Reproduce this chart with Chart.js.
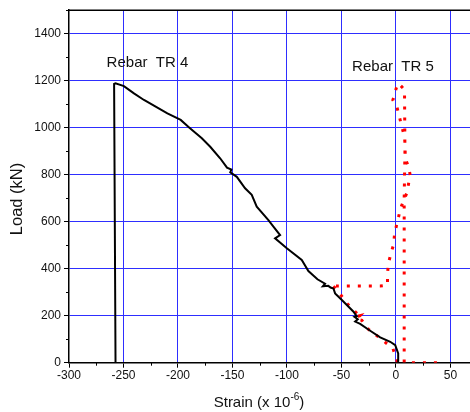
<!DOCTYPE html>
<html>
<head>
<meta charset="utf-8">
<script src="https://cdn.jsdelivr.net/npm/chart.js@4"></script>
<style>
  html, body { margin: 0; padding: 0; background: #fff; overflow: hidden; }
  #wrap { width: 470px; height: 412px; }
</style>
</head>
<body>
<div id="wrap"><canvas id="chart" width="470" height="412"></canvas></div>
<script>
// Rebar TR 4 (solid black): strain (x 10^-6), load (kN)
const tr4Strain = [2.7, 2.1, -0.6, -5.2, -14.4, -23.6, -32.8, -37.4, -35, -38, -36, -38.9, -49.6, -55.8, -57.3, -60, -62, -67, -65, -72, -80.3, -86.4, -100.1, -110.9, -106.3, -112.4, -117, -127.7, -132.3, -138.4, -146, -152, -151, -155, -161.3, -170.4, -178.1, -189.5, -197.5, -209.7, -231.2, -240.4, -249.6, -257.3, -258.6, -257.3];
const tr4Load   = [4, 40, 75, 89, 108, 136, 165, 175, 185, 195, 198, 217, 267, 295, 316, 320, 327, 325, 336, 355, 390, 437, 487, 529, 543, 579, 607, 664, 714, 742, 791, 810, 822, 830, 870, 919, 955, 1000, 1033, 1061, 1118, 1146, 1177, 1189, 1186, 0];

// Rebar TR 5 (red dotted)
const tr5Strain = [1, 0.9, -2.8, -14.4, -25.1, -31.2, -36, -33, -37, -34.3, -45, -52.7, -59.4, -55, -46.6, -35.8, -25.1, -14.4, -7.7, -7.7, -6.8, -4.6, -2.2, -1.3, 0.3, 2.4, 4, 7, 10.1, 13.1, 11.6, 8.5, 8.5, 7.9, 5.5, 2.4, 0.9, -2.8, -1.3, 0.3, 2.4, 7.9, 8.3, 7.6, 7.6, 7.6, 20, 40.8];
const tr5Load   = [2, 11, 61, 104, 142, 180, 185, 200, 195, 203, 253, 302, 334, 326, 326, 326, 326, 326, 330, 380, 423, 465, 501, 543, 579, 619, 654, 689, 723, 799, 834, 870, 919, 960, 1004, 1061, 1089, 1118, 1139, 1168, 1189, 1161, 900, 700, 400, 0, 0, 0];

const xTicks = [-300, -250, -200, -150, -100, -50, 0, 50];
const xMinor = [-275, -225, -175, -125, -75, -25, 25];
const yTicks = [0, 200, 400, 600, 800, 1000, 1200, 1400];
const yMinor = [100, 300, 500, 700, 900, 1100, 1300, 1500];

const toPoints = (xs, ys) => xs.map((x, i) => ({ x: x, y: ys[i] }));

const FONT = "Liberation Sans, Arial, sans-serif";
const GRID_BLUE = "#2e2eff";

// minor ticks, top border, text labels and axis titles
const decor = {
  id: "decor",
  afterDraw(chart) {
    const ctx = chart.ctx;
    const a = chart.chartArea;
    const xs = chart.scales.x, ys = chart.scales.y;
    ctx.save();
    ctx.strokeStyle = "#000";
    ctx.lineWidth = 1.5;
    ctx.beginPath();
    ctx.moveTo(a.left - 1, a.top);
    ctx.lineTo(a.right, a.top);
    ctx.stroke();

    ctx.lineWidth = 1;
    ctx.beginPath();
    xMinor.forEach((v) => {
      const px = Math.round(xs.getPixelForValue(v)) + 0.5;
      ctx.moveTo(px, a.bottom);
      ctx.lineTo(px, a.bottom + 3);
    });
    yMinor.forEach((v) => {
      const py = Math.round(ys.getPixelForValue(v)) + 0.5;
      ctx.moveTo(a.left, py);
      ctx.lineTo(a.left - 3, py);
    });
    ctx.stroke();

    ctx.fillStyle = "#111";
    ctx.font = "15px " + FONT;
    ctx.textAlign = "center";
    ctx.textBaseline = "middle";
    ctx.fillText("Rebar  TR 4", xs.getPixelForValue(-228), ys.getPixelForValue(1275));
    ctx.fillText("Rebar  TR 5", xs.getPixelForValue(-2.7), ys.getPixelForValue(1258));

    // x title with superscript
    ctx.textAlign = "left";
    ctx.textBaseline = "alphabetic";
    ctx.font = "15px " + FONT;
    const main = "Strain (x 10";
    const w1 = ctx.measureText(main).width;
    ctx.font = "10px " + FONT;
    const sup = "-6";
    const w2 = ctx.measureText(sup).width;
    ctx.font = "15px " + FONT;
    const w3 = ctx.measureText(")").width;
    const total = w1 + w2 + w3;
    const x0 = 259 - total / 2;
    const base = 407;
    ctx.fillText(main, x0, base);
    ctx.font = "10px " + FONT;
    ctx.fillText(sup, x0 + w1, base - 7);
    ctx.font = "15px " + FONT;
    ctx.fillText(")", x0 + w1 + w2, base);

    // y title
    ctx.translate(17, 199);
    ctx.rotate(-Math.PI / 2);
    ctx.textAlign = "center";
    ctx.textBaseline = "middle";
    ctx.font = "16.5px " + FONT;
    ctx.fillText("Load (kN)", 0, 0);
    ctx.restore();
  }
};

new Chart(document.getElementById("chart"), {
  type: "scatter",
  data: {
    datasets: [
      {
        label: "Rebar TR 4",
        data: toPoints(tr4Strain, tr4Load),
        showLine: true,
        borderColor: "#000",
        borderWidth: 2,
        pointRadius: 0,
        tension: 0
      },
      {
        label: "Rebar TR 5",
        data: toPoints(tr5Strain, tr5Load),
        showLine: true,
        borderColor: "#ff0000",
        borderWidth: 3,
        borderDash: [3, 8],
        borderCapStyle: "butt",
        pointRadius: 0,
        tension: 0
      }
    ]
  },
  options: {
    responsive: false,
    animation: false,
    layout: { padding: { top: 10, left: 0, right: 0, bottom: 0 } },
    plugins: { legend: { display: false }, tooltip: { enabled: false } },
    scales: {
      x: {
        type: "linear",
        min: -300,
        max: 68,
        afterBuildTicks: (s) => { s.ticks = xTicks.map((v) => ({ value: v })); },
        afterFit: (s) => { s.height = 49.3; },
        ticks: {
          color: "#111",
          font: { family: FONT, size: 12 },
          padding: 1,
          maxRotation: 0,
          autoSkip: false,
          callback: (v) => String(v)
        },
        grid: {
          color: (c) => (c.tick && c.tick.value !== -300 ? GRID_BLUE : "rgba(0,0,0,0)"),
          tickColor: "#000",
          tickLength: 5,
          lineWidth: 1
        },
        border: { color: "#000", width: 1.5 }
      },
      y: {
        type: "linear",
        min: 0,
        max: 1500,
        afterBuildTicks: (s) => { s.ticks = yTicks.map((v) => ({ value: v })); },
        afterFit: (s) => { s.width = 69; },
        ticks: {
          color: "#111",
          font: { family: FONT, size: 12 },
          padding: 3,
          autoSkip: false,
          callback: (v) => String(v)
        },
        grid: {
          color: (c) => (c.tick && c.tick.value !== 0 ? GRID_BLUE : "rgba(0,0,0,0)"),
          tickColor: "#000",
          tickLength: 5,
          lineWidth: 1
        },
        border: { color: "#000", width: 1.5 }
      }
    }
  },
  plugins: [decor]
});
</script>
</body>
</html>
